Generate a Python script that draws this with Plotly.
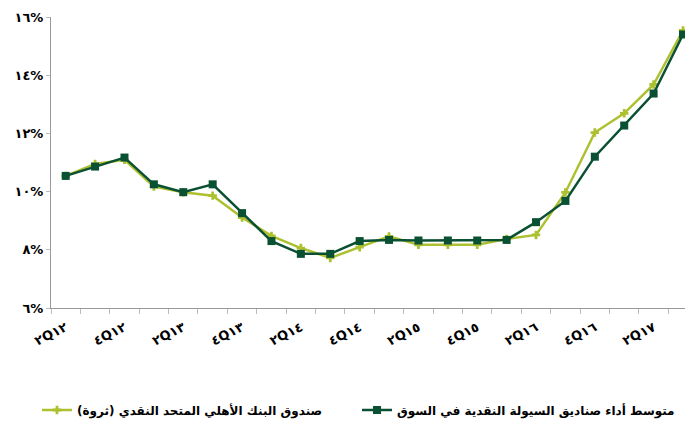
import plotly.graph_objects as go

quarters = ["2Q12","3Q12","4Q12","1Q13","2Q13","3Q13","4Q13","1Q14","2Q14","3Q14","4Q14",
            "1Q15","2Q15","3Q15","4Q15","1Q16","2Q16","3Q16","4Q16","1Q17","2Q17","3Q17"]
tick_labels = ["٢Q١٢","٤Q١٢","٢Q١٣","٤Q١٣","٢Q١٤","٤Q١٤","٢Q١٥","٤Q١٥","٢Q١٦","٤Q١٦","٢Q١٧"]
market_avg = [10.54,10.86,11.17,10.25,9.98,10.25,9.26,8.30,7.86,7.86,8.30,
              8.34,8.32,8.32,8.32,8.34,8.95,9.68,11.20,12.27,13.37,15.40]
ncb_fund = [10.54,10.95,11.09,10.17,9.98,9.86,9.11,8.48,8.06,7.72,8.09,
            8.46,8.17,8.17,8.17,8.37,8.51,9.97,12.03,12.69,13.68,15.54]
y_ticks = [6,8,10,12,14,16]
y_tick_labels = ["٦%","٨%","١٠%","١٢%","١٤%","١٦%"]
name_fund = "صندوق البنك الأهلي المتحد النقدي (ثروة)"
name_market = "متوسط أداء صناديق السيولة النقدية في السوق"

x = list(range(len(quarters)))
DARK = "#0a5032"
LIGHT = "#adc130"

W, H = 685, 423  # page body has an 8px margin

fig = go.Figure()
fig.add_trace(go.Scatter(x=x, y=ncb_fund, name=name_fund, mode="lines+markers",
                         line=dict(color=LIGHT, width=2.5),
                         marker=dict(symbol="cross", size=7, color=LIGHT),
                         legend="legend"))
fig.add_trace(go.Scatter(x=x, y=market_avg, name=name_market, mode="lines+markers",
                         line=dict(color=DARK, width=2.5),
                         marker=dict(symbol="square", size=8, color=DARK),
                         legend="legend2"))

leg_font = dict(family="DejaVu Sans", size=12, color="#000000", weight="bold")
fig.update_layout(
    width=W, height=H,
    margin=dict(l=43, r=0, t=9, b=123, autoexpand=False),
    plot_bgcolor="white", paper_bgcolor="white",
    font=dict(family="DejaVu Sans", size=14, color="#000000"),
    showlegend=True,
    legend=dict(xref="container", yref="container", x=29 / W, xanchor="left",
                y=1 - 402 / H, yanchor="middle", font=leg_font, itemwidth=30),
    legend2=dict(xref="container", yref="container", x=349 / W, xanchor="left",
                 y=1 - 402 / H, yanchor="middle", font=leg_font, itemwidth=30),
)
fig.update_xaxes(range=[-0.5, 21.34], showgrid=False, zeroline=False, automargin=False,
                 showline=True, linecolor="#999999", linewidth=1,
                 tickmode="array", tickvals=x[::2], ticktext=tick_labels,
                 ticks="", tickangle=-27, ticklabelstandoff=6,
                 tickfont=dict(family="DejaVu Sans", size=13, color="#000000", weight="bold"),
                 minor=dict(tickmode="linear", tick0=-0.5, dtick=1, ticks="outside",
                            ticklen=5, tickcolor="#bbbbbb", showgrid=False))
fig.update_yaxes(range=[6, 16], showgrid=False, zeroline=False, automargin=False,
                 showline=True, linecolor="#999999", linewidth=1,
                 tickmode="array", tickvals=y_ticks, ticktext=y_tick_labels,
                 ticks="outside", ticklen=4, tickcolor="#bbbbbb",
                 tickfont=dict(family="DejaVu Sans", size=13, color="#000000", weight="bold"))

fig.write_html("out.html")
